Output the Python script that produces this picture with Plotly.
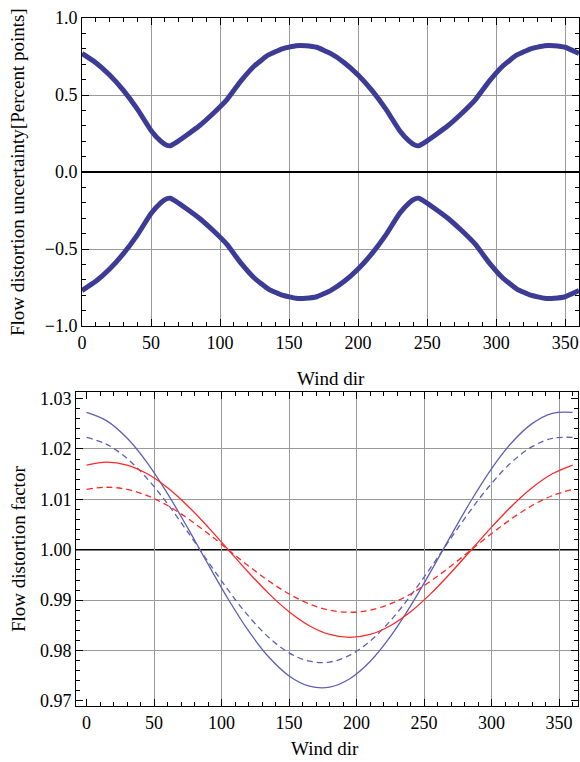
import plotly.graph_objects as go

# ---------------- data ----------------
# Top panel: flow distortion uncertainty [percent points]
wind_dir_top = [0, 10, 20, 30, 40, 50, 57, 61, 64, 68, 76, 85, 95, 105, 115, 125, 135, 145, 155, 162, 170, 180,
                190, 200, 210, 220, 230, 237, 241, 244, 248, 256, 265, 275, 285, 295, 305, 315, 325, 335, 342, 350, 360]
upper_uncert = [0.77, 0.71, 0.63, 0.53, 0.41, 0.27, 0.20, 0.175, 0.17, 0.19, 0.24, 0.30, 0.38, 0.47, 0.59, 0.69,
                0.76, 0.80, 0.82, 0.82, 0.81, 0.77,
                0.71, 0.63, 0.53, 0.41, 0.27, 0.20, 0.175, 0.17, 0.19, 0.24, 0.30, 0.38, 0.47, 0.59, 0.69,
                0.76, 0.80, 0.82, 0.82, 0.81, 0.77]
lower_uncert = [-0.77, -0.71, -0.63, -0.53, -0.41, -0.27, -0.20, -0.175, -0.17, -0.19, -0.24, -0.30, -0.38, -0.47,
                -0.59, -0.69, -0.76, -0.80, -0.82, -0.82, -0.81, -0.77,
                -0.71, -0.63, -0.53, -0.41, -0.27, -0.20, -0.175, -0.17, -0.19, -0.24, -0.30, -0.38, -0.47,
                -0.59, -0.69, -0.76, -0.80, -0.82, -0.82, -0.81, -0.77]

# Bottom panel: flow distortion factor
wind_dir_bot = [0, 15, 30, 45, 60, 75, 90, 105, 120, 135, 150, 165, 180, 195, 210, 225, 240, 255, 270, 285, 300,
                315, 330, 345, 360]
blue_solid = [1.02725, 1.02558, 1.02217, 1.01724, 1.01114, 1.00429, 0.99714, 0.99018, 0.98389, 0.97871, 0.97497,
              0.97294, 0.97275, 0.97442, 0.97783, 0.98276, 0.98886, 0.99571, 1.00286, 1.00982, 1.01611, 1.02129,
              1.02503, 1.02706, 1.02725]
blue_dashed = [1.02228, 1.02091, 1.01812, 1.01410, 1.00911, 1.00350, 0.99766, 0.99197, 0.98683, 0.98259, 0.97954,
               0.97788, 0.97772, 0.97909, 0.98188, 0.98590, 0.99089, 0.99650, 1.00234, 1.00803, 1.01317, 1.01741,
               1.02046, 1.02212, 1.02228]
red_solid = [1.01681, 1.01740, 1.01681, 1.01507, 1.01230, 1.00870, 1.00450, 1.00000, 0.99550, 0.99130, 0.98770,
             0.98493, 0.98319, 0.98260, 0.98319, 0.98493, 0.98770, 0.99130, 0.99550, 1.00000, 1.00450, 1.00870,
             1.01230, 1.01507, 1.01681]
red_dashed = [1.01198, 1.01240, 1.01198, 1.01074, 1.00877, 1.00620, 1.00321, 1.00000, 0.99679, 0.99380, 0.99123,
              0.98926, 0.98802, 0.98760, 0.98802, 0.98926, 0.99123, 0.99380, 0.99679, 1.00000, 1.00321, 1.00620,
              1.00877, 1.01074, 1.01198]

x_ticks = [0, 50, 100, 150, 200, 250, 300, 350]
x_grid = [50, 100, 150, 200, 250, 300, 350]
y_bot_ticks = [0.97, 0.98, 0.99, 1.00, 1.01, 1.02, 1.03]
y_bot_grid = [0.98, 0.99, 1.01, 1.02]

# ---------------- style ----------------
W, H = 580, 762
FONT = "Liberation Serif, Times New Roman, Times, serif"
NAVY = "#3c3c96"
BLUE = "rgb(95,95,180)"
RED = "rgb(255,40,40)"
GRID = "#999999"

fig = go.Figure()
for ys in (upper_uncert, lower_uncert):
    fig.add_trace(go.Scatter(x=wind_dir_top, y=ys, mode="lines", xaxis="x", yaxis="y",
                             line=dict(color=NAVY, width=5, shape="spline", smoothing=0.35),
                             showlegend=False, hoverinfo="skip"))

for ys, col, dash in ((blue_solid, BLUE, "solid"), (blue_dashed, BLUE, "6px,4px"),
                      (red_solid, RED, "solid"), (red_dashed, RED, "6px,4px")):
    fig.add_trace(go.Scatter(x=wind_dir_bot, y=ys, mode="lines", xaxis="x2", yaxis="y2",
                             line=dict(color=col, width=1.3, dash=dash, shape="spline"),
                             showlegend=False, hoverinfo="skip"))

# dummy trace to create overlay subplot for selective gridlines
fig.add_trace(go.Scatter(x=[None], y=[None], xaxis="x3", yaxis="y3", showlegend=False, hoverinfo="skip"))

tickfont = dict(family=FONT, size=18, color="black")
common = dict(ticks="inside", ticklen=7, tickwidth=1, tickcolor="black", showline=True, linecolor="black",
              linewidth=1, mirror="ticks", tickfont=tickfont, automargin=False)

def px_x(p):
    return p / W

def px_y(p):
    return 1 - p / H

fig.update_layout(
    width=W, height=H, margin=dict(l=0, r=0, t=0, b=0, autoexpand=False),
    plot_bgcolor="white", paper_bgcolor="white",
    font=dict(family=FONT, color="black"),
    hovermode=False,
    xaxis=dict(domain=[px_x(82), px_x(579)], anchor="y", range=[0, 360], tickvals=x_ticks,
               showgrid=True, gridcolor=GRID, gridwidth=1, zeroline=False,
               minor=dict(dtick=10, tick0=0, ticks="inside", ticklen=4, tickcolor="black", showgrid=False),
               **common),
    yaxis=dict(domain=[px_y(326), px_y(18)], anchor="x", range=[-1, 1], dtick=0.5, tick0=0, tickformat=".1f",
               showgrid=True, gridcolor=GRID, gridwidth=1,
               zeroline=True, zerolinecolor="black", zerolinewidth=1.2,
               minor=dict(dtick=0.1, tick0=0, ticks="inside", ticklen=4, tickcolor="black", showgrid=False),
               **common),
    xaxis2=dict(domain=[px_x(76), px_x(578)], anchor="y2", range=[-7.8, 364], tickvals=x_ticks,
                showgrid=False, zeroline=False,
                minor=dict(dtick=10, tick0=0, ticks="inside", ticklen=4, tickcolor="black", showgrid=False),
                **common),
    yaxis2=dict(domain=[px_y(706), px_y(392)], anchor="x2", range=[0.969, 1.0313], tickvals=y_bot_ticks,
                tickformat=".2f", showgrid=False, zeroline=False,
                minor=dict(dtick=0.002, tick0=0.97, ticks="inside", ticklen=4, tickcolor="black", showgrid=False),
                **common),
    xaxis3=dict(overlaying="x2", anchor="y3", range=[-7.8, 364], tickvals=x_grid, showgrid=True,
                gridcolor=GRID, gridwidth=1, showticklabels=False, ticks="", showline=False, zeroline=False,
                automargin=False),
    yaxis3=dict(overlaying="y2", anchor="x3", range=[0.969, 1.0313], tickvals=y_bot_grid, showgrid=True,
                gridcolor=GRID, gridwidth=1, showticklabels=False, ticks="", showline=False, zeroline=False,
                automargin=False),
    shapes=[dict(type="line", xref="x2 domain", yref="y2", x0=0, x1=1, y0=1.0, y1=1.0,
                 line=dict(color="black", width=1.6), layer="below")],
)

title_font = dict(family=FONT, size=19, color="black")
fig.add_annotation(text="Wind dir", xref="paper", yref="paper", x=px_x(331), y=px_y(378),
                   showarrow=False, font=title_font, xanchor="center", yanchor="middle")
fig.add_annotation(text="Wind dir", xref="paper", yref="paper", x=px_x(325), y=px_y(748),
                   showarrow=False, font=title_font, xanchor="center", yanchor="middle")
fig.add_annotation(text="Flow distortion uncertainty[Percent points]", xref="paper", yref="paper",
                   x=px_x(18), y=px_y(172), textangle=-90, showarrow=False, font=title_font,
                   xanchor="center", yanchor="middle")
fig.add_annotation(text="Flow distortion factor", xref="paper", yref="paper",
                   x=px_x(18), y=px_y(549), textangle=-90, showarrow=False, font=title_font,
                   xanchor="center", yanchor="middle")

fig.write_html("out.html", config={"displayModeBar": False, "staticPlot": True},
               post_script="document.body.style.margin='0';document.body.style.overflow='hidden';")
